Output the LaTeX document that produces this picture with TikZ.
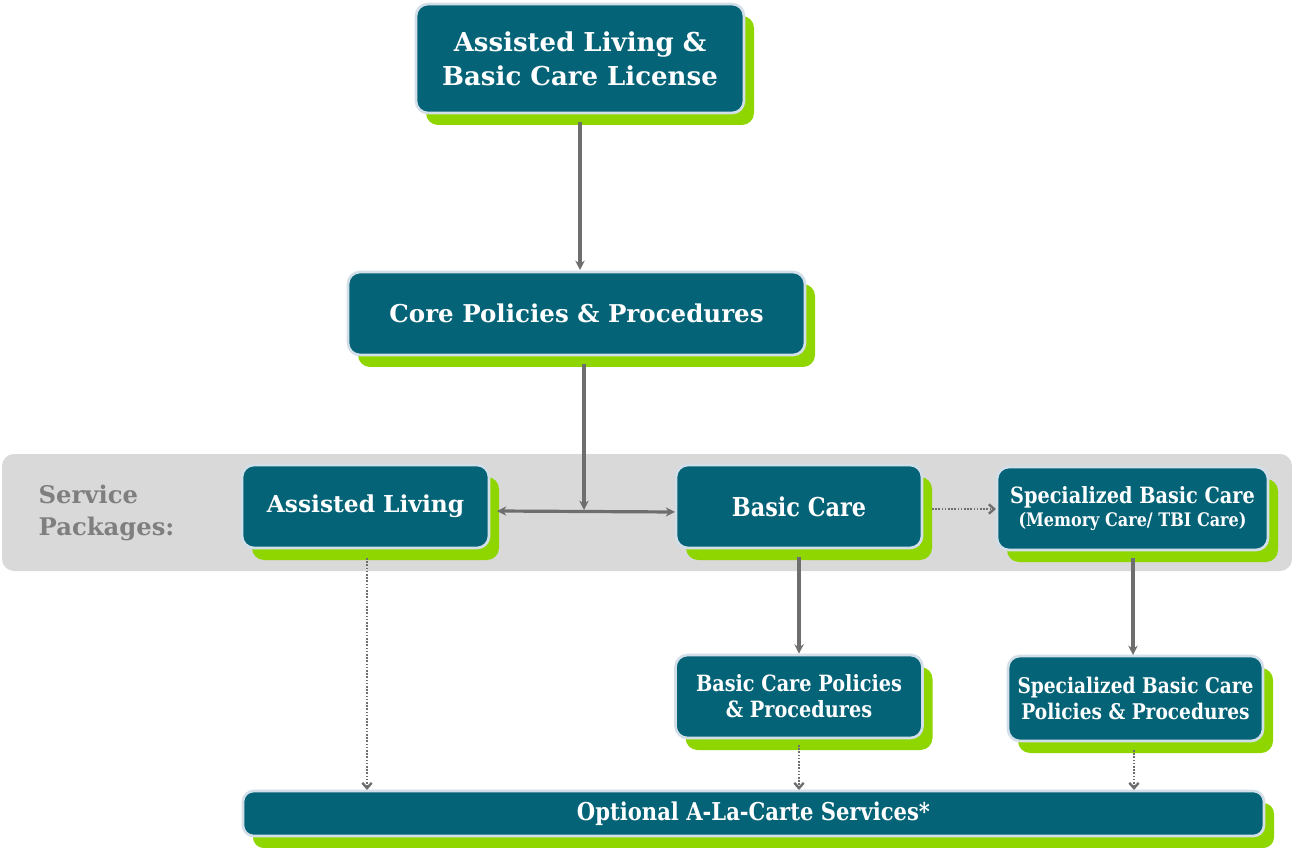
\documentclass[tikz,border=0pt]{standalone}
\usepackage{fontspec}
\setmainfont{DejaVu Serif}
\newfontfamily\condf[FakeStretch=0.86]{DejaVu Serif}
\usetikzlibrary{shadows,arrows.meta}
\definecolor{teal}{HTML}{056378}
\definecolor{lgreen}{HTML}{8FD500}
\definecolor{edge}{HTML}{D2DEE8}
\definecolor{band}{HTML}{D9D9D9}
\definecolor{arr}{HTML}{6E6E6E}
\definecolor{lbl}{HTML}{7F7F7F}
\tikzset{
  box/.style={draw=edge, line width=2pt, fill=teal, rounded corners=9pt, text=white,
    font=\bfseries, align=center, inner sep=0pt,
    general shadow={shadow xshift=7.5pt, shadow yshift=-9pt, fill=lgreen, draw=none}},
  solidarr/.style={draw=arr, line width=2.4pt, -{Stealth[length=7pt,width=7pt]}},
  dotarr/.style={draw=arr, line width=1.8pt, dash pattern=on 1.2pt off 1.2pt, -{Straight Barb[length=4pt,width=7pt]}},
}
\begin{document}
\begin{tikzpicture}[x=0.75pt,y=-0.75pt]
\useasboundingbox (0,0) rectangle (1292,848);
\fill[band, rounded corners=9pt] (2,454) rectangle (1292,571);
\node[text=lbl, font=\fontsize{18.2}{24}\selectfont\bfseries, align=left, anchor=west] (sp) at (34,513) {Service\\Packages:};

\node[box, minimum width=328*0.75pt, minimum height=109*0.75pt, font=\fontsize{19.5}{25.5}\selectfont\bfseries] (lic) at (580,58.5) {Assisted Living \&\\Basic Care License};
\node[box, minimum width=457*0.75pt, minimum height=83*0.75pt, font=\fontsize{18.4}{22}\selectfont\bfseries] (core) at (576.5,313.5) {Core Policies \& Procedures};
\node[box, minimum width=247*0.75pt, minimum height=83*0.75pt, font=\fontsize{17.5}{22}\selectfont\bfseries] (al) at (365.5,506.5) {Assisted Living};
\node[box, minimum width=246*0.75pt, minimum height=83*0.75pt, font=\fontsize{19.5}{22}\selectfont\condf\bfseries] (bc) at (799,506.5) {Basic Care};
\node[box, minimum width=271*0.75pt, minimum height=83*0.75pt, font=\fontsize{16.8}{19}\selectfont\condf\bfseries] (sbc) at (1132.5,508.5) {Specialized Basic Care\\[-2pt]{\fontsize{14}{16}\selectfont (Memory Care/ TBI Care)}};
\node[box, minimum width=247*0.75pt, minimum height=83*0.75pt, font=\fontsize{16.8}{19.5}\selectfont\condf\bfseries] (bcp) at (799,696.5) {Basic Care Policies\\\& Procedures};
\node[box, minimum width=255*0.75pt, minimum height=85*0.75pt, font=\fontsize{16.2}{19}\selectfont\condf\bfseries] (sbcp) at (1135.5,698.5) {Specialized Basic Care\\Policies \& Procedures};
\node[box, minimum width=1021*0.75pt, minimum height=45*0.75pt, rounded corners=8pt, font=\fontsize{18.4}{20}\selectfont\condf\bfseries] (opt) at (753.5,813.5) {Optional A-La-Carte Services*};

\coordinate (j) at (584,510);
\draw[solidarr] (580,122) -- (580,270);
\draw[solidarr] (584,364) -- (j);
\draw[draw=arr, line width=2.4pt, {Stealth[length=7pt,width=7pt]}-{Stealth[length=7pt,width=7pt]}] (497,511) -- (675,512);
\draw[dotarr] (932,509) -- (996,509);
\draw[solidarr] (799,557) -- (bcp.north);
\draw[solidarr] (1133,558) -- (1133,655);
\draw[dotarr] (367,558) -- (367,790);
\draw[dotarr] (799,745) -- (799,790);
\draw[dotarr] (1134,750) -- (1134,790);
\end{tikzpicture}
\end{document}
